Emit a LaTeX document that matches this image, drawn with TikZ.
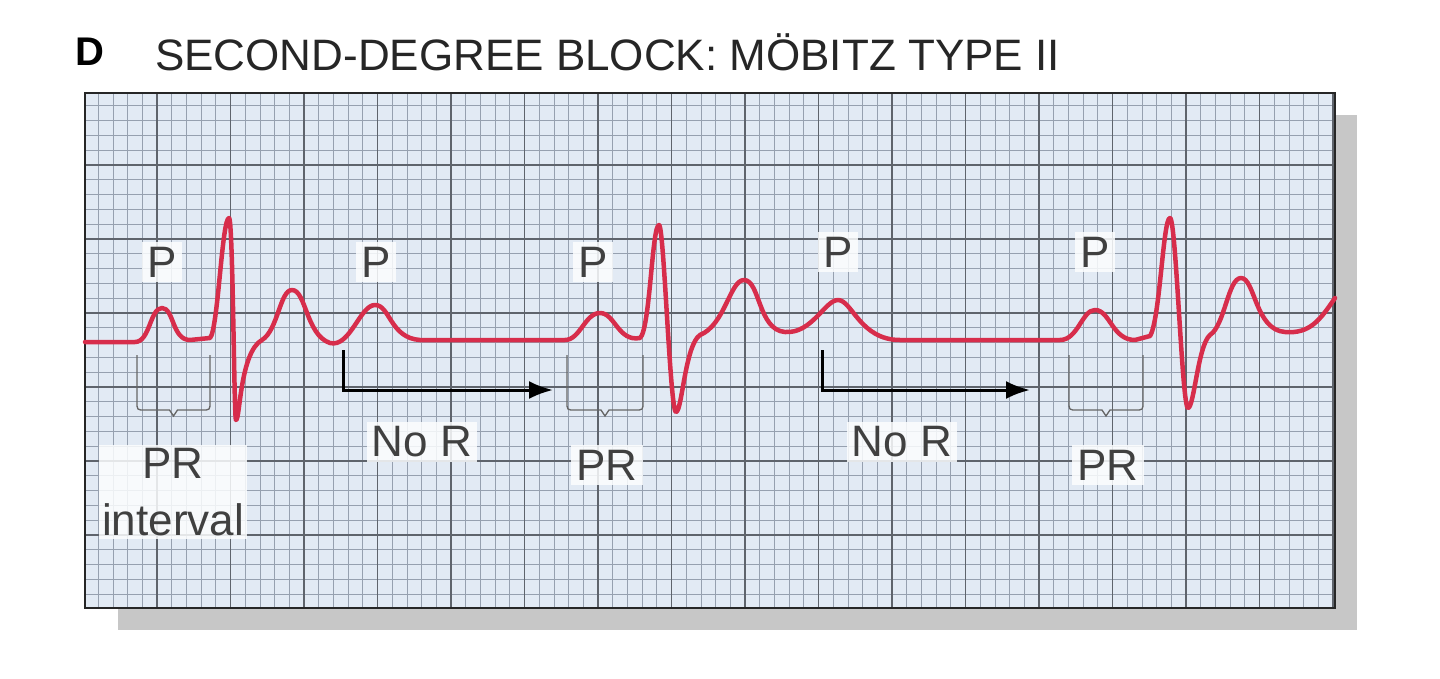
\documentclass[tikz,border=0pt]{standalone}
\usepackage{fontspec}
\setmainfont{Liberation Sans}
\usetikzlibrary{arrows.meta}
\definecolor{paper}{RGB}{226,234,244}
\definecolor{minor}{RGB}{150,160,175}
\definecolor{major}{RGB}{95,100,108}
\begin{document}
\begin{tikzpicture}[x=1pt,y=-1pt,
  lbl/.style={font=\fontsize{44}{46}\selectfont, text=black!75, fill=white!90!paper, fill opacity=0.85, text opacity=1, inner sep=5pt},
  ecg/.style={draw={rgb,255:red,215;green,45;blue,75}, line width=4.5pt, line join=round, line cap=round},
  brk/.style={draw=black!60, line width=1.3pt},
  arr/.style={draw=black, line width=3pt, -{Latex[length=24pt,width=18pt]}}]
\useasboundingbox (0,0) rectangle (1440,678);
\fill[white] (0,0) rectangle (1440,678);
\fill[black!22] (118,115) rectangle (1357,630);
\fill[paper] (85,93) rectangle (1335,608);
\begin{scope}
\clip (85,93) rectangle (1335,608);
\foreach \i in {-10,...,90} \draw[minor, line width=0.7pt] (157+14.7*\i,93) -- (157+14.7*\i,608);
\foreach \i in {-10,...,40} \draw[minor, line width=0.7pt] (85,165+14.8*\i) -- (1335,165+14.8*\i);
\foreach \i in {-1,...,17} \draw[major, line width=1.4pt] (157+73.5*\i,93) -- (157+73.5*\i,608);
\foreach \i in {-1,...,7} \draw[major, line width=1.4pt] (85,165+74*\i) -- (1335,165+74*\i);
\end{scope}
\draw[black!85, line width=2pt] (85,93) rectangle (1335,608);
\node[anchor=west, font=\bfseries\fontsize{40}{42}\selectfont] (d) at (72,52) {D};
\node[anchor=west, font=\fontsize{44}{46}\selectfont, text=black!85, inner sep=0pt] (t) at (155,52) {SECOND-DEGREE BLOCK: MÖBITZ TYPE II};
\node[lbl] (p1) at (162,262) {P};
\node[lbl] (p2) at (376,262) {P};
\node[lbl] (p3) at (593,262) {P};
\node[lbl] (p4) at (838,252) {P};
\node[lbl] (p5) at (1095,252) {P};
\node[lbl, align=center, inner sep=3pt, font=\fontsize{44}{57}\selectfont] (pr1) at (173,492) {PR\\interval};
\node[lbl] (nr1) at (422,442) {No R};
\node[lbl] (pr2) at (607,465) {PR};
\node[lbl] (nr2) at (902,442) {No R};
\node[lbl] (pr3) at (1108,465) {PR};
\draw[ecg] (85,342) -- (135,342) .. controls (150,342) and (150,308) .. (162,308)
  .. controls (174,308) and (172,340) .. (190,340) -- (210,338)
  .. controls (218,330) and (222,218) .. (229,218)
  .. controls (233,218) and (234,420) .. (236,420)
  .. controls (240,420) and (240,352) .. (262,340)
  .. controls (278,330) and (280,290) .. (292,290)
  .. controls (306,290) and (306,335) .. (330,343)
  .. controls (350,348) and (360,305) .. (375,305)
  .. controls (390,305) and (390,338) .. (420,340) -- (565,340)
  .. controls (580,340) and (585,313) .. (600,313)
  .. controls (615,313) and (618,342) .. (640,338)
  .. controls (650,330) and (652,225) .. (659,225)
  .. controls (664,225) and (670,412) .. (676,412)
  .. controls (682,412) and (685,345) .. (700,335)
  .. controls (725,325) and (730,280) .. (744,280)
  .. controls (760,280) and (758,330) .. (785,332)
  .. controls (812,334) and (825,300) .. (838,300)
  .. controls (852,300) and (860,340) .. (900,340) -- (1060,340)
  .. controls (1078,340) and (1082,310) .. (1095,310)
  .. controls (1110,310) and (1112,340) .. (1135,340) -- (1150,336)
  .. controls (1160,320) and (1163,218) .. (1170,218)
  .. controls (1176,218) and (1182,408) .. (1188,408)
  .. controls (1194,408) and (1198,345) .. (1210,335)
  .. controls (1225,325) and (1228,278) .. (1241,278)
  .. controls (1255,278) and (1255,330) .. (1285,332)
  .. controls (1310,334) and (1320,320) .. (1335,298);
\foreach \a/\b in {137/210,567/643,1069/1143}{
  \draw[brk] (\a,355) -- (\a,402) .. controls (\a,410) .. (\a+8,410) -- ({(\a+\b)/2-4},410) -- ({(\a+\b)/2},416) -- ({(\a+\b)/2+4},410) -- (\b-8,410) .. controls (\b,410) .. (\b,402) -- (\b,355);
}
\coordinate (a1s) at (343,350); \coordinate (a1e) at (553,390);
\coordinate (a2s) at (822,350); \coordinate (a2e) at (1030,390);
\draw[arr] (a1s) |- (a1e);
\draw[arr] (a2s) |- (a2e);
\end{tikzpicture}
\end{document}
